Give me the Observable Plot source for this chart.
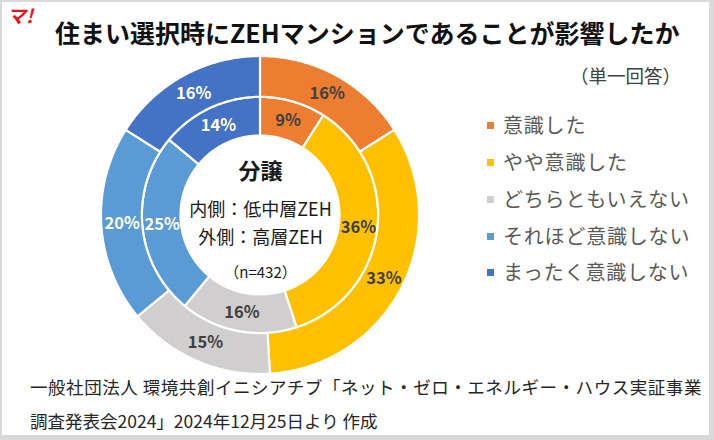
<!DOCTYPE html>
<html>
<head>
<meta charset="utf-8">
<script src="https://cdn.jsdelivr.net/npm/d3@7"></script>
<script src="https://cdn.jsdelivr.net/npm/@observablehq/plot@0.6"></script>
<style>
  html, body { margin: 0; padding: 0; background: #fff; }
  #wrap { position: relative; width: 714px; height: 440px; overflow: hidden; font-family: "Noto Sans CJK JP", sans-serif; background: #fff; }
  #wrap svg { position: absolute; left: 0; top: 0; }
  .abs { position: absolute; white-space: nowrap; line-height: 1; }
  #frame { position: absolute; left: 0; top: 0; width: 714px; height: 440px; box-sizing: border-box;
           border-top: 2px solid #d9d9d9; border-left: 2px solid #d9d9d9; border-right: 5px solid #d9d9d9; border-bottom: 5px solid #d9d9d9; }
</style>
</head>
<body>
<div id="wrap"></div>
<script>
// ---- data ----
const categories = ["意識した", "やや意識した", "どちらともいえない", "それほど意識しない", "まったく意識しない"];
const colors = ["#ED7D31", "#FFC000", "#D0CECE", "#5B9BD5", "#4472C4"];
const innerValues = [9, 36, 16, 25, 14];   // 内側：低中層ZEH
const outerValues = [16, 33, 15, 20, 16];  // 外側：高層ZEH
const whiteLabelCategories = ["それほど意識しない", "まったく意識しない"];
const titleText = "住まい選択時にZEHマンションであることが影響したか";
const subtitleText = "（単一回答）";
const centerLines = ["分譲", "内側：低中層ZEH", "外側：高層ZEH", "（n=432）"];
const captionLines = ["一般社団法人 環境共創イニシアチブ「ネット・ゼロ・エネルギー・ハウス実証事業", "調査発表会2024」2024年12月25日より 作成"];

// ---- ring geometry (derived from data) ----
const rings = [
  {name: "inner", values: innerValues, r0: 0.5, r1: 0.743},
  {name: "outer", values: outerValues, r0: 0.743, r1: 1.0}
];
const pie = d3.pie().sort(null).startAngle(0).endAngle(2 * Math.PI);
const slices = [];
for (const ring of rings) {
  pie(ring.values).forEach((a, i) => {
    slices.push({ring: ring.name, category: categories[i], value: ring.values[i],
      a0: a.startAngle, a1: a.endAngle, r0: ring.r0, r1: ring.r1});
  });
}
const points = [];
for (const s of slices) {
  const n = Math.max(2, Math.ceil((s.a1 - s.a0) / 0.01) + 1);
  for (let k = 0; k < n; k++) {
    const t = s.a0 + (s.a1 - s.a0) * k / (n - 1);
    points.push({key: s.ring + s.category, category: s.category,
      x1: s.r0 * Math.sin(t), y1: s.r0 * Math.cos(t),
      x2: s.r1 * Math.sin(t), y2: s.r1 * Math.cos(t)});
  }
}
const labels = slices.map(s => {
  const t = (s.a0 + s.a1) / 2, r = (s.r0 + s.r1) / 2;
  return {category: s.category, text: s.value + "%", x: r * Math.sin(t), y: r * Math.cos(t)};
});

const FONT = "Noto Sans CJK JP";
const plot = Plot.plot({
  width: 714, height: 440,
  marginLeft: 101, marginRight: 295, marginTop: 56, marginBottom: 66,
  x: {domain: [-1, 1], axis: null},
  y: {domain: [-1, 1], axis: null},
  color: {domain: categories, range: colors},
  style: {fontFamily: FONT, background: "transparent", overflow: "visible"},
  marks: [
    Plot.area(points, {x1: "x1", y1: "y1", x2: "x2", y2: "y2", z: "key", fill: "category", stroke: "white", strokeWidth: 2.2}),
    Plot.text(labels.filter(d => !whiteLabelCategories.includes(d.category)), {x: "x", y: "y", text: "text", fill: "#404040", fontSize: 16.5, fontWeight: "bold"}),
    Plot.text(labels.filter(d => whiteLabelCategories.includes(d.category)), {x: "x", y: "y", text: "text", fill: "#ffffff", fontSize: 16.5, fontWeight: "bold"}),
    Plot.text([centerLines[0]], {frameAnchor: "middle", dy: -44, fontSize: 22, fontWeight: "bold", fill: "#1a1a1a"}),
    Plot.text([centerLines[1]], {frameAnchor: "middle", dy: -5, fontSize: 18, fill: "#1a1a1a", letterSpacing: 1.6}),
    Plot.text([centerLines[2]], {frameAnchor: "middle", dy: 23, fontSize: 18, fill: "#1a1a1a", letterSpacing: 1.6}),
    Plot.text([centerLines[3]], {frameAnchor: "middle", dy: 58, fontSize: 15, fill: "#1a1a1a"})
  ]
});
const wrap = document.getElementById("wrap");
wrap.appendChild(plot);

function addText(txt, left, cy, size, opts = {}) {
  const d = document.createElement("div");
  d.className = "abs";
  d.textContent = txt;
  d.style.left = left + "px";
  d.style.top = (cy - size / 2) + "px";
  d.style.fontSize = size + "px";
  d.style.height = size + "px";
  if (opts.weight) d.style.fontWeight = opts.weight;
  d.style.color = opts.color || "#262626";
  if (opts.ls) d.style.letterSpacing = opts.ls + "px";
  if (opts.style) d.style.fontStyle = opts.style;
  wrap.appendChild(d);
  return d;
}
// logo
addText("マ!", 7, 14, 19, {weight: "bold", color: "#e8141c", style: "italic"});
// title & subtitle
addText(titleText, 55, 32, 25, {weight: "bold", color: "#111"});
addText(subtitleText, 570, 75, 18.5, {color: "#404040"});
// legend
const legendY = [125, 162, 199, 236, 272];
categories.forEach((c, i) => {
  const sq = document.createElement("div");
  sq.style.cssText = `position:absolute;left:487px;top:${legendY[i] - 3.5}px;width:7px;height:7px;background:${colors[i]}`;
  wrap.appendChild(sq);
  addText(c, 503, legendY[i], 20, {color: "#595959", ls: 0.8});
});
// caption
addText(captionLines[0], 30, 387, 17.5, {color: "#262626", ls: 0.55});
addText(captionLines[1], 30, 421, 17.5, {color: "#262626"});
// frame
const fr = document.createElement("div");
fr.id = "frame";
wrap.appendChild(fr);
</script>
</body>
</html>
